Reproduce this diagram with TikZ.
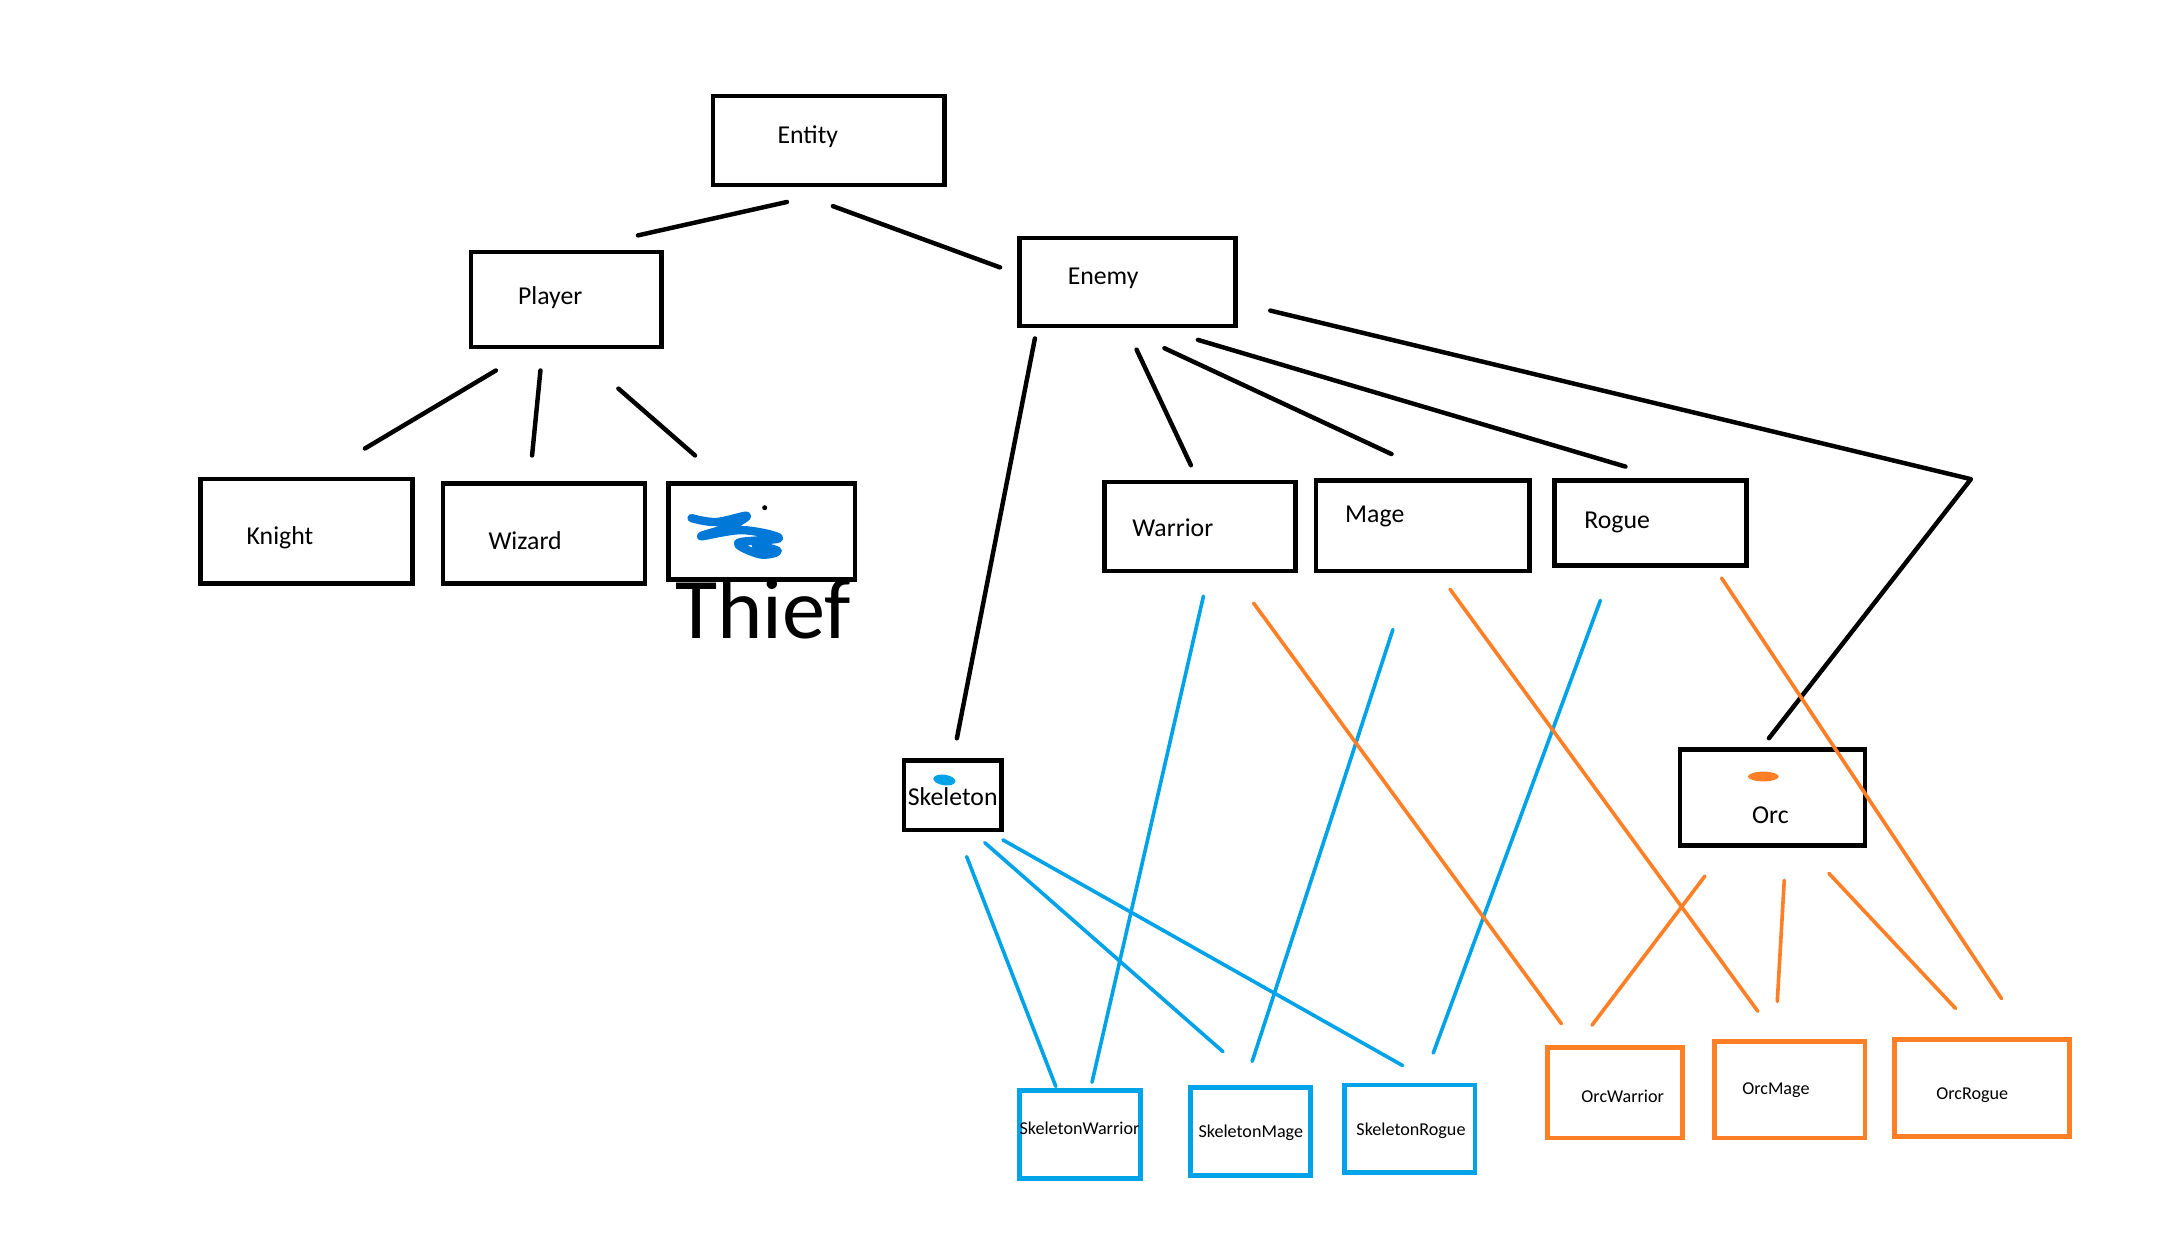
\documentclass[tikz,border=0pt]{standalone}
\usepackage{fontspec}
\setmainfont{Carlito}
\usetikzlibrary{calc}

\definecolor{skelblue}{RGB}{0,162,232}
\definecolor{orcorange}{RGB}{255,127,39}
\definecolor{scribblue}{RGB}{0,120,215}

\begin{document}
\begin{tikzpicture}[
  x=1pt, y=-1pt,
  box/.style   = {draw, line width=3.2pt, inner sep=0pt},
  sbox/.style  = {draw=skelblue, line width=3.5pt, inner sep=0pt},
  obox/.style  = {draw=orcorange, line width=3.5pt, inner sep=0pt},
  txt/.style   = {font=\fontsize{18.5}{22}\selectfont},
  stxt/.style  = {font=\fontsize{13}{15}\selectfont},
  link/.style  = {line width=3.2pt, line cap=round},
  slink/.style = {draw=skelblue, line width=2.6pt, line cap=round},
  olink/.style = {draw=orcorange, line width=2.6pt, line cap=round},
]
\useasboundingbox (0,0) rectangle (1568,893);

% Row 1 – root
\node[box, minimum width=166, minimum height=64,
      label={[txt, shift={(-15,-3)}]center:Entity}] (entity) at (595,101) {};

% Row 2 – player / enemy
\node[box, minimum width=137, minimum height=68,
      label={[txt, shift={(-11.5,-1)}]center:Player}] (player) at (406.5,215) {};
\node[box, minimum width=155, minimum height=63,
      label={[txt, shift={(-17.5,-2.5)}]center:Enemy}] (enemy) at (809.5,202.5) {};

% Row 3 – player classes
\node[box, minimum width=152, minimum height=75,
      label={[txt, shift={(-19,4.5)}]center:Knight}] (knight) at (220,381.5) {};
\node[box, minimum width=145, minimum height=72,
      label={[txt, shift={(-13.5,5)}]center:Wizard}] (wizard) at (390.5,383) {};
\node[box, minimum width=134, minimum height=69] (thief) at (547,381.5) {};
\draw[scribblue, line width=6pt, line cap=round, line join=round]
  plot[smooth, tension=0.6] coordinates {(496.5,372) (514,374.8) (536,370.3)
    (523.5,378.3) (503.4,385) (533,380.6) (559.4,386.4) (530,389.8)
    (545.7,398) (558.4,395.6) (542.5,391)};
\fill (549,364.5) circle (1.8);
\node[font=\fontsize{62}{62}\selectfont] (thieflbl) at (548,437) {Thief};

% Row 3 – enemy classes
\node[box, minimum width=137, minimum height=64,
      label={[txt, shift={(-19.5,1)}]center:Warrior}] (warrior) at (861.5,378) {};
\node[box, minimum width=153, minimum height=65,
      label={[txt, shift={(-34.5,-6.5)}]center:Mage}] (mage) at (1021.5,377.5) {};
\node[box, minimum width=138, minimum height=61,
      label={[txt, shift={(-24,-0.5)}]center:Rogue}] (rogue) at (1185,375.5) {};

% Row 4 – races
\node[box, minimum width=70, minimum height=50,
      label={[txt, shift={(0,1)}]center:Skeleton}] (skel) at (684,571) {};
\fill[skelblue, rotate around={-8:(678,560)}] (678,560) ellipse (8 and 3.8);
\node[box, minimum width=133, minimum height=69,
      label={[txt, shift={(-1.5,12.5)}]center:Orc}] (orc) at (1272.5,572.5) {};
\fill[orcorange] (1266,557.5) ellipse (11 and 3.5);

% Row 5 – skeleton and orc subclasses
\node[sbox, minimum width=87, minimum height=63,
      label={[stxt, shift={(-0.5,-4.5)}]center:SkeletonWarrior}] (skwar) at (775.5,814.5) {};
\node[sbox, minimum width=86, minimum height=63,
      label={[stxt, shift={(0,0.5)}]center:SkeletonMage}] (skmage) at (898,812.5) {};
\node[sbox, minimum width=94, minimum height=63,
      label={[stxt, shift={(1,1.5)}]center:SkeletonRogue}] (skrogue) at (1012,810.5) {};
\node[obox, minimum width=97, minimum height=65,
      label={[stxt, shift={(5.5,2.5)}]center:OrcWarrior}] (orcwar) at (1159.5,784.5) {};
\node[obox, minimum width=108, minimum height=69,
      label={[stxt, shift={(-10,0.5)}]center:OrcMage}] (orcmage) at (1285,782.5) {};
\node[obox, minimum width=126, minimum height=70,
      label={[stxt, shift={(-7,5)}]center:OrcRogue}] (orcrogue) at (1423,781) {};

% Black links
\draw[link] ($(entity)+(-30,44)$)    -- ($(player)+(51.5,-46)$);
\draw[link] ($(entity)+(3,47)$)      -- ($(enemy)+(-91.5,-10.5)$);
\draw[link] ($(player)+(-50.5,51)$)  -- ($(knight)+(42,-59.5)$);
\draw[link] ($(player)+(-18.5,51)$)  -- ($(wizard)+(-8.5,-56)$);
\draw[link] ($(player)+(37.5,64)$)   -- ($(thief)+(-48,-54.5)$);
\draw[link] ($(enemy)+(-66.5,40.5)$) -- ($(skel)+(3,-41)$);
\draw[link] ($(enemy)+(6.5,48.5)$)   -- ($(warrior)+(-6.5,-44)$);
\draw[link] ($(enemy)+(26.5,47.5)$)  -- ($(mage)+(-22.5,-51.5)$);
\draw[link] ($(enemy)+(50.5,41.5)$)  -- ($(rogue)+(-18,-40.5)$);
\coordinate (orcbend) at (1415,344);
\draw[link, line join=round] ($(enemy)+(102.5,20.5)$) -- (orcbend) -- ($(orc)+(-2.5,-42.5)$);

% Blue links
\draw[slink] ($(skel)+(10,44)$)        -- ($(skwar)+(-17.5,-34.5)$);
\draw[slink] ($(skel)+(23,34)$)        -- ($(skmage)+(-20,-57.5)$);
\draw[slink] ($(skel)+(36,32)$)        -- ($(skrogue)+(-5,-45.5)$);
\draw[slink] ($(warrior)+(2.5,50)$)    -- ($(skwar)+(8.5,-37.5)$);
\draw[slink] ($(mage)+(-21.5,74.5)$)   -- ($(skmage)+(1,-50.5)$);
\draw[slink] ($(rogue)+(-36,55.5)$)    -- ($(skrogue)+(17,-54.5)$);

% Orange links
\draw[olink] ($(warrior)+(38.5,55)$)   -- ($(orcwar)+(-38.5,-49.5)$);
\draw[olink] ($(mage)+(19.5,45.5)$)    -- ($(orcmage)+(-23,-56.5)$);
\draw[olink] ($(rogue)+(51,39.5)$)     -- ($(orcrogue)+(14,-64)$);
\draw[olink] ($(orc)+(-48.5,56.5)$)    -- ($(orcwar)+(-16.5,-48.5)$);
\draw[olink] ($(orc)+(8.5,59.5)$)      -- ($(orcmage)+(-9,-63.5)$);
\draw[olink] ($(orc)+(40.5,54.5)$)     -- ($(orcrogue)+(-19,-57)$);
\end{tikzpicture}
\end{document}
